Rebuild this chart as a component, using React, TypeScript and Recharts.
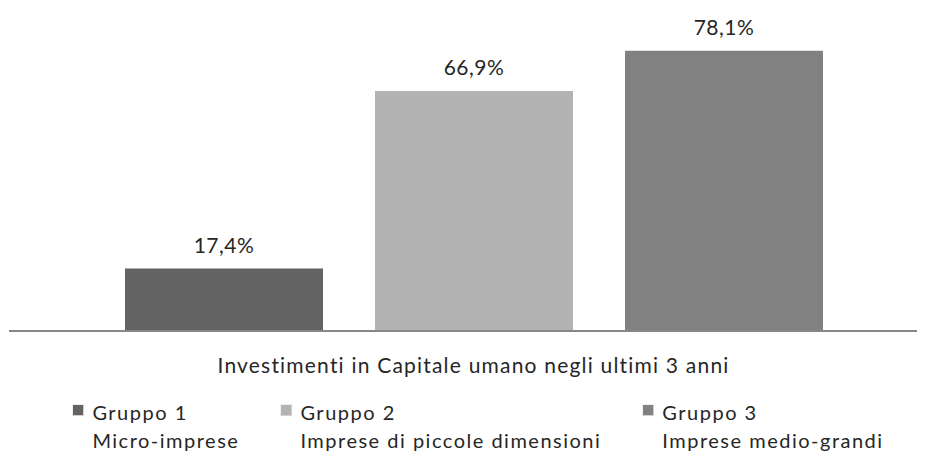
import React from 'react';
import { BarChart, Bar, XAxis, YAxis, LabelList, Legend } from 'recharts';

const categories = ['Investimenti in Capitale umano negli ultimi 3 anni'];
const seriesKeys = ['g1', 'g2', 'g3'];
const seriesNames = ['Gruppo 1', 'Gruppo 2', 'Gruppo 3'];
const seriesSubtitles = ['Micro-imprese', 'Imprese di piccole dimensioni', 'Imprese medio-grandi'];
const gruppo1 = [17.4];
const gruppo2 = [66.9];
const gruppo3 = [78.1];
const seriesColors = ['#636363', '#b3b3b3', '#818181'];

const data = categories.map((c, i) => ({
  category: c,
  g1: gruppo1[i],
  g2: gruppo2[i],
  g3: gruppo3[i],
}));

const FONT = 'Lato, "Noto Sans", sans-serif';
const TEXT = '#262626';

const fmt = (v: any) => `${Number(v).toFixed(1).replace('.', ',')}%`;

const CategoryTick = (props: any) => {
  const { x, y, payload } = props;
  return (
    <text
      x={x}
      y={y}
      dy={42}
      textAnchor="middle"
      fontFamily={FONT}
      fontSize={21}
      fill={TEXT}
      letterSpacing={1.2}
    >
      {payload.value}
    </text>
  );
};

const LegendContent = () => (
  <div
    style={{
      display: 'flex',
      justifyContent: 'center',
      gap: 41,
      fontFamily: FONT,
      fontSize: 20,
      lineHeight: '28px',
      color: TEXT,
      letterSpacing: 1.5,
      whiteSpace: 'nowrap',
    }}
  >
    {seriesNames.map((name, i) => (
      <div key={name} style={{ display: 'flex', alignItems: 'flex-start' }}>
        <div
          style={{
            width: 10,
            height: 10,
            marginTop: 6,
            marginRight: 8,
            background: seriesColors[i],
            borderTop: '1px solid #f0f0f0',
            borderLeft: '1px solid #f0f0f0',
            borderBottom: '1px solid #d0d0d0',
            borderRight: '1px solid #d0d0d0',
            boxSizing: 'content-box',
          }}
        />
        <div>
          <div>{name}</div>
          <div>{seriesSubtitles[i]}</div>
        </div>
      </div>
    ))}
  </div>
);

export default function App() {
  return (
    <div style={{ width: 917, height: 444, overflow: 'hidden', position: 'relative' }}>
      <BarChart
        width={932}
        height={444}
        data={data}
        margin={{ top: 0, right: 2, bottom: 91, left: 1 }}
        barGap={52}
      >
        <XAxis
          dataKey="category"
          axisLine={{ stroke: '#878787', strokeWidth: 2 }}
          tickLine={false}
          tickSize={0}
          tickMargin={0}
          tick={<CategoryTick />}
          height={30}
        />
        <YAxis hide domain={[0, 90]} />
        <Legend
          content={<LegendContent />}
          wrapperStyle={{ position: 'absolute', top: 390, left: 4, bottom: 'auto', width: 932, height: 0 }}
        />
        {seriesKeys.map((k, i) => (
          <Bar key={k} dataKey={k} name={seriesNames[i]} fill={seriesColors[i]} barSize={198} isAnimationActive={false}>
            <LabelList
              dataKey={k}
              position="top"
              offset={16}
              formatter={fmt}
              fontFamily={FONT}
              fontSize={21}
              fill={TEXT}
              letterSpacing={0.5}
            />
          </Bar>
        ))}
      </BarChart>
    </div>
  );
}
